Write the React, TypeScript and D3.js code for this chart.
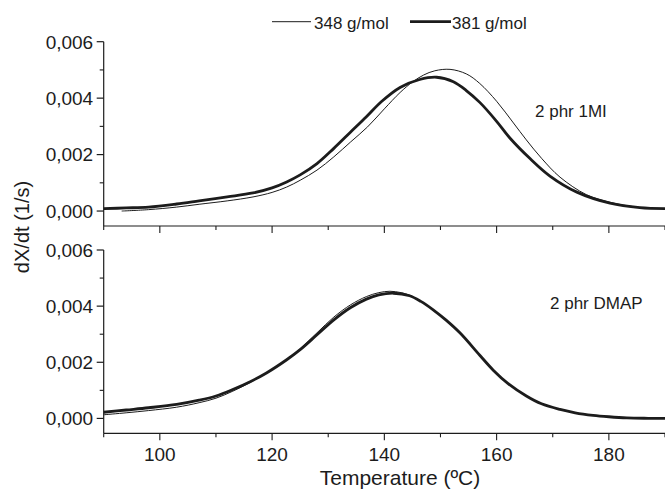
import React from "react";
import * as d3 from "d3";

// ---------- data ----------
const seriesNames = ["348 g/mol", "381 g/mol"];
const xTickValues = [100, 120, 140, 160, 180];
const yTickValues = [0, 0.002, 0.004, 0.006];
const yTickLabels = ["0,000", "0,002", "0,004", "0,006"];
const panelLabels = ["2 phr 1MI", "2 phr DMAP"];

// Top panel (2 phr 1MI), values in 1e-3 1/s
const topT348 = [93.2, 98, 103, 107, 112, 116.6, 120, 122.6, 125, 128, 131, 134, 137, 140, 142.8, 145, 147, 149, 151.7, 154.6, 157, 160, 163, 165.3, 168, 171.3, 176, 180.2, 185, 190];
const topV348 = [0.0, 0.05, 0.14, 0.24, 0.36, 0.5, 0.66, 0.85, 1.09, 1.45, 1.92, 2.45, 2.98, 3.62, 4.2, 4.57, 4.82, 4.97, 5.02, 4.86, 4.52, 3.89, 3.12, 2.52, 1.87, 1.2, 0.58, 0.31, 0.14, 0.085];
const topT381 = [90, 94, 98, 103, 107, 112, 116.6, 120, 122.6, 125, 128, 131, 134, 136.8, 139.5, 142.8, 146.3, 149.3, 152.3, 154.6, 157, 160, 162.4, 166, 169.5, 174.3, 180.2, 185.5, 190];
const topV381 = [0.085, 0.11, 0.14, 0.25, 0.36, 0.5, 0.64, 0.82, 1.03, 1.28, 1.68, 2.22, 2.8, 3.34, 3.88, 4.38, 4.66, 4.74, 4.58, 4.27, 3.85, 3.18, 2.58, 1.85, 1.24, 0.67, 0.28, 0.12, 0.085];

// Bottom panel (2 phr DMAP)
const botT348 = [90, 94, 98, 103, 107, 110, 113, 116, 119, 122.6, 125, 128, 131, 134, 136.8, 139, 141, 143, 144.5, 146.5, 148.7, 151, 153.5, 157, 159.4, 162, 165.3, 168, 171.3, 174, 177.2, 180, 183.2, 187, 190];
const botV348 = [0.13, 0.2, 0.28, 0.4, 0.56, 0.72, 0.97, 1.27, 1.62, 2.1, 2.48, 3.05, 3.61, 4.05, 4.34, 4.48, 4.53, 4.48, 4.39, 4.18, 3.87, 3.5, 3.04, 2.25, 1.72, 1.25, 0.8, 0.52, 0.32, 0.2, 0.11, 0.06, 0.02, 0.005, 0.0];
const botT381 = [90, 94, 98, 103, 107, 110, 113, 116, 119, 122.6, 125, 128, 131, 134, 136.8, 139, 141.6, 144.5, 146.5, 148.7, 151, 153.5, 157, 159.4, 162, 165.3, 168, 171.3, 174, 177.2, 180, 183.2, 187, 190];
const botV381 = [0.22, 0.3, 0.38, 0.5, 0.65, 0.8, 1.03, 1.3, 1.62, 2.09, 2.45, 2.98, 3.51, 3.95, 4.25, 4.4, 4.46, 4.37, 4.17, 3.87, 3.5, 3.04, 2.25, 1.72, 1.25, 0.8, 0.52, 0.32, 0.2, 0.11, 0.06, 0.02, 0.005, 0.0];

const W = 665;
const H = 491;
const FONT = "Liberation Sans, Arial, Helvetica, sans-serif";
const INK = "#1c1c1c";

const x = d3.scaleLinear().domain([90, 190]).range([103.7, 665]);

const panels = [
  { top: 41.7, bottom: 226, t348: topT348, v348: topV348, t381: topT381, v381: topV381, label: panelLabels[0], lx: 535, ly: 117, showX: false },
  { top: 250, bottom: 433.3, t348: botT348, v348: botV348, t381: botT381, v381: botV381, label: panelLabels[1], lx: 550, ly: 309, showX: true },
];

function Panel({ p }: { p: any }) {
  const y = d3.scaleLinear().domain([-0.00053, 0.006]).range([p.bottom, p.top]);
  const line = d3
    .line<[number, number]>()
    .x((d) => x(d[0]))
    .y((d) => y(d[1] / 1000))
    .curve(d3.curveCatmullRom.alpha(0.5));
  const d348 = line(p.t348.map((t: number, i: number) => [t, p.v348[i]]));
  const d381 = line(p.t381.map((t: number, i: number) => [t, p.v381[i]]));
  const minorY = [0.001, 0.003, 0.005];
  const xAll = d3.range(90, 191, 10);
  const x0 = x(90);
  return (
    <g>
      <line x1={x0} x2={x0} y1={p.top} y2={p.bottom} stroke={INK} strokeWidth={1.2} />
      <line x1={x0} x2={665} y1={p.bottom} y2={p.bottom} stroke={INK} strokeWidth={1.2} />
      {yTickValues.map((v, i) => (
        <g key={"yt" + i}>
          <line x1={x0 - 7} x2={x0} y1={y(v)} y2={y(v)} stroke={INK} strokeWidth={1.2} />
          <text x={x0 - 10.5} y={y(v)} dy="0.36em" textAnchor="end" fontSize={19} fontFamily={FONT} fill={INK}>
            {yTickLabels[i]}
          </text>
        </g>
      ))}
      {minorY.map((v, i) => (
        <line key={"ym" + i} x1={x0 - 4} x2={x0} y1={y(v)} y2={y(v)} stroke={INK} strokeWidth={1.1} />
      ))}
      {xAll.map((t) => {
        const major = xTickValues.includes(t);
        return (
          <line key={"xt" + t} x1={x(t)} x2={x(t)} y1={p.bottom} y2={p.bottom + (major ? 7 : 4)} stroke={INK} strokeWidth={1.1} />
        );
      })}
      {p.showX &&
        xTickValues.map((t) => (
          <text key={"xl" + t} x={x(t)} y={461} textAnchor="middle" fontSize={19} fontFamily={FONT} fill={INK}>
            {t}
          </text>
        ))}
      <path d={d348 || ""} fill="none" stroke={INK} strokeWidth={1} />
      <path d={d381 || ""} fill="none" stroke={INK} strokeWidth={2.8} />
      <text x={p.lx} y={p.ly} fontSize={17} fontFamily={FONT} fill={INK}>
        {p.label}
      </text>
    </g>
  );
}

export default function App() {
  return (
    <svg width={W} height={H} style={{ position: "absolute", left: 0, top: 0, background: "#fff" }}>
      <rect width={W} height={H} fill="#fff" />
      {panels.map((p, i) => (
        <Panel key={i} p={p} />
      ))}
      <line x1={272} x2={311} y1={21.7} y2={21.7} stroke={INK} strokeWidth={1} />
      <text x={314} y={29} fontSize={17} fontFamily={FONT} fill={INK}>
        {seriesNames[0]}
      </text>
      <line x1={410} x2={451} y1={21.7} y2={21.7} stroke={INK} strokeWidth={2.8} />
      <text x={452} y={29} fontSize={17} fontFamily={FONT} fill={INK}>
        {seriesNames[1]}
      </text>
      <text x={400} y={485} textAnchor="middle" fontSize={21} fontFamily={FONT} fill={INK}>
        Temperature (ºC)
      </text>
      <text transform="translate(29,227) rotate(-90)" textAnchor="middle" fontSize={20} fontFamily={FONT} fill={INK}>
        dX/dt (1/s)
      </text>
    </svg>
  );
}
